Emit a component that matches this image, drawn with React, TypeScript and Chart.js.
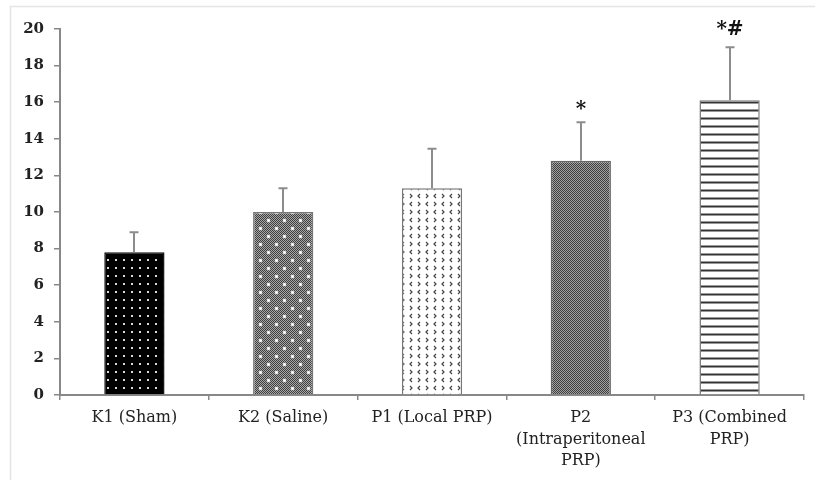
import React, { useEffect, useRef } from "react";
import { Chart, registerables } from "chart.js";

Chart.register(...registerables);

const categories: string[][] = [
  ["K1 (Sham)"],
  ["K2 (Saline)"],
  ["P1 (Local PRP)"],
  ["P2", "(Intraperitoneal", "PRP)"],
  ["P3 (Combined", "PRP)"],
];
const means = [7.8, 10.0, 11.3, 12.8, 16.1];
const errors = [1.1, 1.3, 2.15, 2.1, 2.9];
const marks = ["", "", "", "*", "*#"];
const yMin = 0;
const yMax = 20;
const yStep = 2;

function makeTile(w: number, h: number, draw: (c: CanvasRenderingContext2D) => void) {
  const cv = document.createElement("canvas");
  cv.width = w;
  cv.height = h;
  const c = cv.getContext("2d")!;
  draw(c);
  return cv;
}

function buildPatterns(ctx: CanvasRenderingContext2D) {
  const k1 = makeTile(8, 8, (c) => {
    c.fillStyle = "#000";
    c.fillRect(0, 0, 8, 8);
    c.fillStyle = "#d8d8d8";
    c.fillRect(3, 3, 2, 2);
  });
  const k2 = makeTile(16, 16, (c) => {
    for (let y = 0; y < 16; y++)
      for (let x = 0; x < 16; x++) {
        c.fillStyle = (x + y) % 2 === 0 ? "#3e3e3e" : "#a8a8a8";
        c.fillRect(x, y, 1, 1);
      }
    c.fillStyle = "#f6f6f6";
    c.beginPath();
    c.arc(4.5, 4.5, 1.7, 0, Math.PI * 2);
    c.arc(12.5, 12.5, 1.7, 0, Math.PI * 2);
    c.fill();
  });
  const p1 = makeTile(16, 16, (c) => {
    c.fillStyle = "#fff";
    c.fillRect(0, 0, 16, 16);
    c.strokeStyle = "#444";
    c.lineWidth = 1.2;
    const lt = (x: number, y: number) => {
      c.beginPath();
      c.moveTo(x + 2, y - 2);
      c.lineTo(x, y);
      c.lineTo(x + 2, y + 2);
      c.stroke();
    };
    const gt = (x: number, y: number) => {
      c.beginPath();
      c.moveTo(x, y - 2);
      c.lineTo(x + 2, y);
      c.lineTo(x, y + 2);
      c.stroke();
    };
    lt(2, 4);
    gt(10, 4);
    gt(2, 12);
    lt(10, 12);
  });
  const p2 = makeTile(4, 4, (c) => {
    for (let y = 0; y < 4; y++)
      for (let x = 0; x < 4; x++) {
        c.fillStyle = (x + y) % 2 === 0 ? "#3e3e3e" : "#a0a0a0";
        c.fillRect(x, y, 1, 1);
      }
  });
  const p3 = makeTile(8, 8, (c) => {
    c.fillStyle = "#fff";
    c.fillRect(0, 0, 8, 8);
    c.fillStyle = "#9a9a9a";
    c.fillRect(0, 5, 8, 1);
    c.fillStyle = "#333";
    c.fillRect(0, 6, 8, 1.5);
  });
  return [k1, k2, p1, p2, p3].map((t) => ctx.createPattern(t, "repeat")!);
}

const framePlugin = {
  id: "frame",
  beforeDraw(chart: any) {
    const c = chart.ctx;
    c.save();
    c.fillStyle = "#fff";
    c.fillRect(0, 0, chart.width, chart.height);
    c.strokeStyle = "#e4e4e4";
    c.lineWidth = 1.5;
    c.beginPath();
    c.moveTo(10.5, chart.height);
    c.lineTo(10.5, 6.5);
    c.lineTo(chart.width, 6.5);
    c.stroke();
    c.restore();
  },
};

const errorPlugin = {
  id: "errbars",
  afterDatasetsDraw(chart: any) {
    const c = chart.ctx;
    const ys = chart.scales.y;
    const meta = chart.getDatasetMeta(0);
    c.save();
    meta.data.forEach((bar: any, i: number) => {
      const x = Math.round(bar.x);
      const top = ys.getPixelForValue(means[i] + errors[i]);
      c.strokeStyle = "#8c8c8c";
      c.lineWidth = 2;
      c.beginPath();
      c.moveTo(x, bar.y);
      c.lineTo(x, top);
      c.moveTo(x - 4.5, top);
      c.lineTo(x + 4.5, top);
      c.stroke();
      if (marks[i]) {
        c.font = "bold 20px 'DejaVu Serif'";
        c.fillStyle = "#111";
        c.textAlign = "center";
        c.textBaseline = "alphabetic";
        const m = c.measureText(marks[i]);
        const base = top - 12 - m.actualBoundingBoxDescent;
        c.fillText(marks[i], x, base);
      }
    });
    c.restore();
  },
};

export default function App() {
  const ref = useRef<HTMLCanvasElement | null>(null);
  useEffect(() => {
    const cv = ref.current!;
    const ctx = cv.getContext("2d")!;
    const patterns = buildPatterns(ctx);
    const chart = new Chart(ctx, {
      type: "bar",
      data: {
        labels: categories,
        datasets: [
          {
            data: means,
            backgroundColor: patterns as any,
            borderColor: ["#111", "#777", "#777", "#666", "#777"],
            borderWidth: 1.5,
            categoryPercentage: 1,
            barPercentage: 0.405,
          },
        ],
      },
      options: {
        animation: false,
        responsive: false,
        devicePixelRatio: 1,
        layout: { padding: { left: 0, top: 29, right: 11, bottom: 0 } },
        plugins: { legend: { display: false }, tooltip: { enabled: false } },
        scales: {
          x: {
            grid: { drawOnChartArea: false, drawTicks: true, tickLength: 5, color: "#888", lineWidth: 1.5 },
            border: { display: true, color: "#888", width: 2 },
            ticks: {
              color: "#222",
              padding: 7,
              font: { family: "'DejaVu Serif'", size: 16, lineHeight: 1.35 },
              maxRotation: 0,
              autoSkip: false,
            },
            afterFit(scale: any) {
              scale.height = 85;
            },
          },
          y: {
            min: yMin,
            max: yMax,
            grid: { drawOnChartArea: false, drawTicks: true, tickLength: 6, color: "#888", lineWidth: 1.5 },
            border: { display: true, color: "#888", width: 2 },
            ticks: {
              stepSize: yStep,
              color: "#222",
              padding: 10,
              font: { family: "'DejaVu Serif'", size: 15, weight: "bold" },
            },
            afterFit(scale: any) {
              scale.width = 60;
            },
          },
        },
      },
      plugins: [framePlugin, errorPlugin],
    });
    return () => chart.destroy();
  }, []);
  return (
    <div style={{ position: "absolute", left: 0, top: 0, width: 815, height: 480 }}>
      <canvas ref={ref} width={815} height={480} style={{ width: 815, height: 480, display: "block" }} />
    </div>
  );
}
